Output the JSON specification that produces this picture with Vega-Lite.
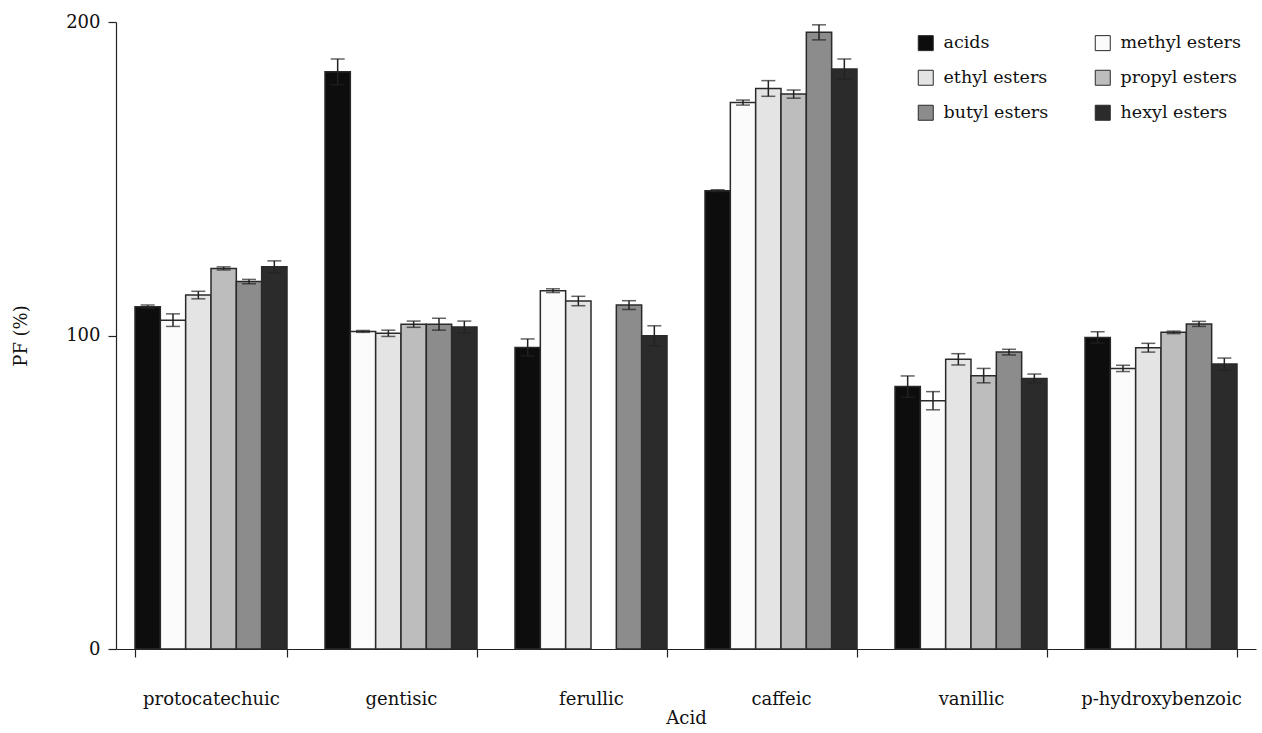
{
  "$schema": "https://vega.github.io/schema/vega-lite/v6.json",
  "width": 1140,
  "height": 627,
  "autosize": "none",
  "padding": {"left": 116, "top": 22, "right": 6, "bottom": 84},
  "background": "white",
  "config": {
    "view": {"stroke": null},
    "font": "DejaVu Serif",
    "axis": {"labelFont": "DejaVu Serif", "titleFont": "DejaVu Serif", "labelColor": "#111", "titleColor": "#111", "domainColor": "#222", "tickColor": "#222", "titleFontWeight": "normal"},
    "legend": {"labelFont": "DejaVu Serif"}
  },
  "data": {
    "values": [
      {"acid": "protocatechuic", "series": "acids", "value": 109.2, "lo": 108.7, "hi": 109.7},
      {"acid": "protocatechuic", "series": "methyl esters", "value": 104.9, "lo": 102.9, "hi": 106.9},
      {"acid": "protocatechuic", "series": "ethyl esters", "value": 112.9, "lo": 111.7, "hi": 114.1},
      {"acid": "protocatechuic", "series": "propyl esters", "value": 121.4, "lo": 120.9, "hi": 121.9},
      {"acid": "protocatechuic", "series": "butyl esters", "value": 117.2, "lo": 116.5, "hi": 117.9},
      {"acid": "protocatechuic", "series": "hexyl esters", "value": 121.9, "lo": 120.0, "hi": 123.8},
      {"acid": "gentisic", "series": "acids", "value": 184.1, "lo": 180.0, "hi": 188.2},
      {"acid": "gentisic", "series": "methyl esters", "value": 101.3, "lo": 101.0, "hi": 101.6},
      {"acid": "gentisic", "series": "ethyl esters", "value": 100.7, "lo": 99.7, "hi": 101.7},
      {"acid": "gentisic", "series": "propyl esters", "value": 103.6, "lo": 102.6, "hi": 104.6},
      {"acid": "gentisic", "series": "butyl esters", "value": 103.6, "lo": 101.7, "hi": 105.5},
      {"acid": "gentisic", "series": "hexyl esters", "value": 102.7, "lo": 100.8, "hi": 104.6},
      {"acid": "ferullic", "series": "acids", "value": 96.2, "lo": 93.5, "hi": 98.9},
      {"acid": "ferullic", "series": "methyl esters", "value": 114.3, "lo": 113.7, "hi": 114.9},
      {"acid": "ferullic", "series": "ethyl esters", "value": 111.0, "lo": 109.5, "hi": 112.5},
      {"acid": "ferullic", "series": "butyl esters", "value": 109.7, "lo": 108.3, "hi": 111.1},
      {"acid": "ferullic", "series": "hexyl esters", "value": 99.9, "lo": 96.7, "hi": 103.1},
      {"acid": "caffeic", "series": "acids", "value": 146.2, "lo": 145.9, "hi": 146.5},
      {"acid": "caffeic", "series": "methyl esters", "value": 174.3, "lo": 173.5, "hi": 175.1},
      {"acid": "caffeic", "series": "ethyl esters", "value": 178.8, "lo": 176.3, "hi": 181.3},
      {"acid": "caffeic", "series": "propyl esters", "value": 177.0, "lo": 175.7, "hi": 178.3},
      {"acid": "caffeic", "series": "butyl esters", "value": 196.7, "lo": 194.3, "hi": 199.1},
      {"acid": "caffeic", "series": "hexyl esters", "value": 185.0, "lo": 181.8, "hi": 188.2},
      {"acid": "vanillic", "series": "acids", "value": 83.7, "lo": 80.3, "hi": 87.1},
      {"acid": "vanillic", "series": "methyl esters", "value": 79.2, "lo": 76.3, "hi": 82.1},
      {"acid": "vanillic", "series": "ethyl esters", "value": 92.4, "lo": 90.6, "hi": 94.2},
      {"acid": "vanillic", "series": "propyl esters", "value": 87.2, "lo": 84.9, "hi": 89.5},
      {"acid": "vanillic", "series": "butyl esters", "value": 94.7, "lo": 93.8, "hi": 95.6},
      {"acid": "vanillic", "series": "hexyl esters", "value": 86.3, "lo": 84.9, "hi": 87.7},
      {"acid": "p-hydroxybenzoic", "series": "acids", "value": 99.4, "lo": 97.6, "hi": 101.2},
      {"acid": "p-hydroxybenzoic", "series": "methyl esters", "value": 89.5, "lo": 88.5, "hi": 90.5},
      {"acid": "p-hydroxybenzoic", "series": "ethyl esters", "value": 96.1, "lo": 94.7, "hi": 97.5},
      {"acid": "p-hydroxybenzoic", "series": "propyl esters", "value": 101.0, "lo": 100.6, "hi": 101.4},
      {"acid": "p-hydroxybenzoic", "series": "butyl esters", "value": 103.7, "lo": 102.9, "hi": 104.5},
      {"acid": "p-hydroxybenzoic", "series": "hexyl esters", "value": 90.9, "lo": 89.0, "hi": 92.8}
    ]
  },
  "encoding": {
    "x": {
      "field": "acid", "type": "nominal",
      "sort": ["protocatechuic", "gentisic", "ferullic", "caffeic", "vanillic", "p-hydroxybenzoic"],
      "scale": {"paddingInner": 0.2, "paddingOuter": 0.1},
      "axis": {"title": "Acid", "labelAngle": 0, "labelFontSize": 18, "titleFontSize": 18, "tickBand": "extent", "tickSize": 8, "labelPadding": 33, "titlePadding": 1, "domainWidth": 1.2, "tickWidth": 1.2}
    },
    "xOffset": {
      "field": "series", "type": "nominal",
      "sort": ["acids", "methyl esters", "ethyl esters", "propyl esters", "butyl esters", "hexyl esters"],
      "scale": {"paddingInner": 0, "paddingOuter": 0}
    }
  },
  "layer": [
    {
      "mark": {"type": "bar", "stroke": "#2a2a2a", "strokeWidth": 1.5, "cornerRadius": 0},
      "encoding": {
        "y": {
          "field": "value", "type": "quantitative",
          "scale": {"domain": [0, 200], "nice": false},
          "axis": {"title": "PF (%)", "values": [0, 100, 200], "grid": false, "tickSize": 8, "labelFontSize": 18, "titleFontSize": 18, "labelPadding": 8, "titlePadding": 35, "domainWidth": 1.2, "tickWidth": 1.2}
        },
        "fill": {
          "field": "series", "type": "nominal",
          "sort": ["acids", "ethyl esters", "butyl esters", "methyl esters", "propyl esters", "hexyl esters"],
          "scale": {
            "domain": ["acids", "ethyl esters", "butyl esters", "methyl esters", "propyl esters", "hexyl esters"],
            "range": ["#0d0d0d", "#e4e4e4", "#8c8c8c", "#fbfbfb", "#bdbdbd", "#2b2b2b"]
          },
          "legend": {
            "title": null, "orient": "none", "legendX": 801, "legendY": 12,
            "columns": 2, "columnPadding": 44, "rowPadding": 15,
            "symbolType": "square", "symbolSize": 225, "symbolStrokeColor": "#2a2a2a", "symbolStrokeWidth": 1,
            "labelFont": "DejaVu Serif", "labelFontSize": 17.5, "labelColor": "#111", "labelOffset": 9
          }
        }
      }
    },
    {
      "mark": {"type": "rule", "color": "#222", "strokeWidth": 1.5},
      "encoding": {
        "y": {"field": "lo", "type": "quantitative"},
        "y2": {"field": "hi"}
      }
    },
    {
      "mark": {"type": "tick", "color": "#222", "thickness": 1.5, "size": 14},
      "encoding": {"y": {"field": "lo", "type": "quantitative"}}
    },
    {
      "mark": {"type": "tick", "color": "#222", "thickness": 1.5, "size": 14},
      "encoding": {"y": {"field": "hi", "type": "quantitative"}}
    }
  ]
}
